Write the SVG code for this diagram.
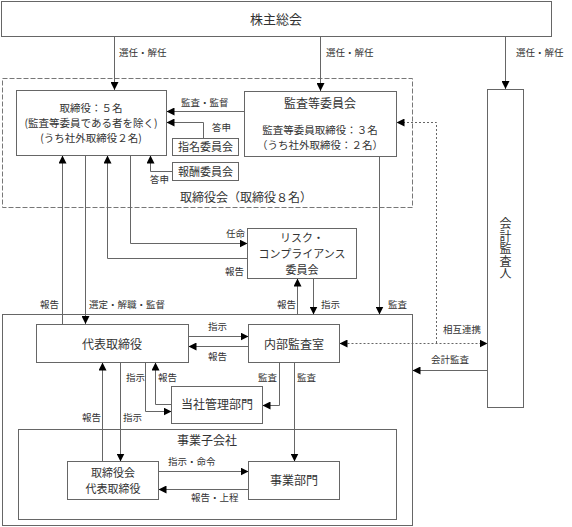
<svg xmlns="http://www.w3.org/2000/svg" width="572" height="527" viewBox="0 0 572 527">
<defs>
<style>
.b{fill:#fff;stroke:#666;stroke-width:1}
.g{fill:none;stroke:#666;stroke-width:1}
.d{fill:none;stroke:#777;stroke-width:1;stroke-dasharray:5,2}
.c{fill:none;stroke:#666;stroke-width:1}
.dot{fill:none;stroke:#666;stroke-width:1;stroke-dasharray:2,2}
.ar{marker-end:url(#a)}
.t{font-family:"Noto Sans CJK JP","Noto Sans CJK SC",sans-serif;font-size:12px;fill:#333;text-anchor:middle}
.s{font-family:"Noto Sans CJK JP","Noto Sans CJK SC",sans-serif;font-size:11px;fill:#333;text-anchor:middle}
.m{font-family:"Noto Sans CJK JP","Noto Sans CJK SC",sans-serif;font-size:10.5px;fill:#333;text-anchor:middle}
.l{font-family:"Noto Sans CJK JP","Noto Sans CJK SC",sans-serif;font-size:9.5px;fill:#333}
.v{writing-mode:vertical-rl;letter-spacing:0.5px}
</style>
<marker id="a" viewBox="0 0 10 10" refX="10" refY="5" markerWidth="8" markerHeight="8" markerUnits="userSpaceOnUse" orient="auto-start-reverse"><path d="M0,0 L10,5 L0,10 z" fill="#000"/></marker>
</defs>
<rect width="572" height="527" fill="#fff"/>

<g id="board-group">
<rect class="d" x="2.5" y="78.5" width="410" height="129"/>
<text class="t" x="246" y="202">取締役会（取締役８名）</text>
</g>
<g id="company">
<rect class="g" x="2.5" y="314.5" width="410" height="211"/>
</g>
<g id="subsidiary">
<rect class="g" x="18.5" y="429.5" width="378" height="90"/>
<text class="t" x="207" y="445">事業子会社</text>
</g>

<g id="connectors">
<path class="c ar" d="M114.5,37 V90"/>
<path class="c ar" d="M320.5,37 V91"/>
<path class="c ar" d="M505.5,37 V89"/>
<path class="c ar" d="M244,111.5 H166.5"/>
<path class="c ar" d="M203.5,138 V122.5 H166.5"/>
<path class="c ar" d="M172,171.5 H150.5 V155.5"/>
<path class="c ar" d="M62.5,324 V155.5"/>
<path class="c ar" d="M85.5,155.5 V324"/>
<path class="c ar" d="M247.5,258.5 H107.5 V155.5"/>
<path class="c ar" d="M130.5,155.5 V243.5 H247.5"/>
<path class="c ar" d="M297.5,314.5 V278.5"/>
<path class="c ar" d="M313.5,278.5 V314.5"/>
<path class="c ar" d="M379.5,156 V314.5"/>
<path class="dot ar" d="M436.5,343 V122.5 H396.5"/>
<path class="dot ar" d="M339.5,343.5 H487.5" style="marker-start:url(#a)"/>
<path class="c ar" d="M487.5,370.5 H412.5"/>
<path class="c ar" d="M188.5,336.5 H248.5"/>
<path class="c ar" d="M248.5,346.5 H188.5"/>
<path class="c ar" d="M102.5,461.5 V362.5"/>
<path class="c ar" d="M120.5,362.5 V461.5"/>
<path class="c ar" d="M145.5,362.5 V411.5 H171.5"/>
<path class="c ar" d="M171.5,404.5 H155.5 V362.5"/>
<path class="c ar" d="M279.5,362.5 V405.5 H262.5"/>
<path class="c ar" d="M294.5,362.5 V461.5"/>
<path class="c ar" d="M158.5,471.5 H248.5"/>
<path class="c ar" d="M248.5,489.5 H158.5"/>

<text class="l" x="119" y="56">選任・解任</text>
<text class="l" x="326" y="56">選任・解任</text>
<text class="l" x="516" y="56">選任・解任</text>
<text class="l" x="181" y="106">監査・監督</text>
<text class="l" x="212" y="131">答申</text>
<text class="l" x="150" y="183">答申</text>
<text class="l" x="226" y="237">任命</text>
<text class="l" x="225" y="275">報告</text>
<text class="l" x="40" y="308">報告</text>
<text class="l" x="89" y="308">選定・解職・監督</text>
<text class="l" x="277" y="308">報告</text>
<text class="l" x="321" y="308">指示</text>
<text class="l" x="388" y="308">監査</text>
<text class="l" x="443" y="333">相互連携</text>
<text class="l" x="431" y="363">会計監査</text>
<text class="l" x="208" y="330">指示</text>
<text class="l" x="208" y="360">報告</text>
<text class="l" x="126" y="381">指示</text>
<text class="l" x="158" y="381">報告</text>
<text class="l" x="258" y="381">監査</text>
<text class="l" x="297" y="381">監査</text>
<text class="l" x="82" y="421">報告</text>
<text class="l" x="123" y="421">指示</text>
<text class="l" x="168" y="465">指示・命令</text>
<text class="l" x="191" y="501">報告・上程</text>
</g>

<g id="shareholders">
<rect class="b" x="1.5" y="1.5" width="550" height="35"/>
<text class="t" x="276" y="24" style="font-size:13px">株主総会</text>
</g>
<g id="directors">
<rect class="b" x="16.5" y="90.5" width="150" height="65"/>
<text class="m" x="91" y="111.5">取締役：５名</text>
<text class="m" x="91" y="126.8">(監査等委員である者を除く)</text>
<text class="m" x="91" y="142.1">(うち社外取締役２名)</text>
</g>
<g id="audit-committee">
<rect class="b" x="244.5" y="91.5" width="152" height="65"/>
<text class="t" x="320" y="108">監査等委員会</text>
<text class="m" x="320" y="134">監査等委員取締役：３名</text>
<text class="m" x="320" y="149.3">（うち社外取締役：２名）</text>
</g>
<g id="nomination">
<rect class="b" x="172.5" y="138.5" width="66" height="17"/>
<text class="s" x="205.5" y="151">指名委員会</text>
</g>
<g id="remuneration">
<rect class="b" x="172.5" y="162.5" width="66" height="18"/>
<text class="s" x="205.5" y="175.5">報酬委員会</text>
</g>
<g id="risk">
<rect class="b" x="247.5" y="228.5" width="109" height="50"/>
<text class="s" x="302" y="241.5">リスク・</text>
<text class="s" x="302" y="257.5">コンプライアンス</text>
<text class="s" x="302" y="273.5">委員会</text>
</g>
<g id="auditor">
<rect class="b" x="487.5" y="89.5" width="36" height="318"/>
<text class="t v" x="505.5" y="249">会計監査人</text>
</g>
<g id="ceo">
<rect class="b" x="36.5" y="324.5" width="152" height="38"/>
<text class="t" x="112" y="349">代表取締役</text>
</g>
<g id="internal-audit">
<rect class="b" x="248.5" y="324.5" width="91" height="38"/>
<text class="t" x="294" y="349">内部監査室</text>
</g>
<g id="admin">
<rect class="b" x="171.5" y="386.5" width="91" height="37"/>
<text class="t" x="217" y="409">当社管理部門</text>
</g>
<g id="sub-board">
<rect class="b" x="67.5" y="461.5" width="91" height="38"/>
<text class="s" x="113" y="476.5">取締役会</text>
<text class="s" x="113" y="492.5">代表取締役</text>
</g>
<g id="business">
<rect class="b" x="248.5" y="461.5" width="91" height="38"/>
<text class="t" x="294" y="485">事業部門</text>
</g>
</svg>
